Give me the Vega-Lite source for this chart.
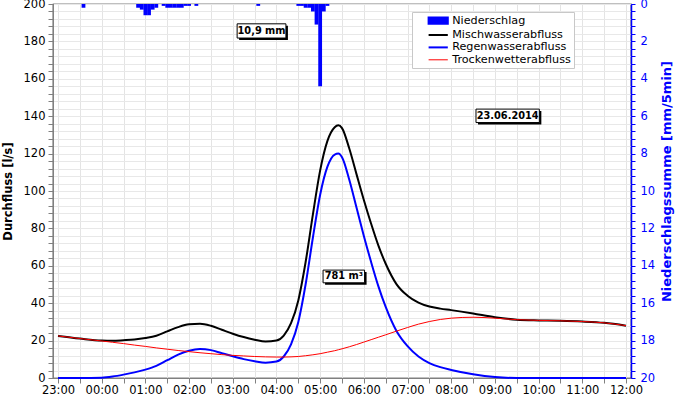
{
  "$schema": "https://vega.github.io/schema/vega-lite/v6.json",
  "width": 578,
  "height": 374,
  "autosize": "none",
  "padding": {"left": 53, "top": 4, "right": 47, "bottom": 21},
  "config": {
    "font": "DejaVu Sans",
    "view": {"stroke": "#000000", "strokeWidth": 1.2}
  },
  "layer": [
    {
      "data": {"values": [
        {"t": "2014-06-22T23:35", "mm": 0.2},
        {"t": "2014-06-23T00:50", "mm": 0.2},
        {"t": "2014-06-23T00:55", "mm": 0.3},
        {"t": "2014-06-23T01:00", "mm": 0.6},
        {"t": "2014-06-23T01:05", "mm": 0.6},
        {"t": "2014-06-23T01:10", "mm": 0.3},
        {"t": "2014-06-23T01:15", "mm": 0.2},
        {"t": "2014-06-23T01:25", "mm": 0.1},
        {"t": "2014-06-23T01:30", "mm": 0.2},
        {"t": "2014-06-23T01:35", "mm": 0.2},
        {"t": "2014-06-23T01:40", "mm": 0.2},
        {"t": "2014-06-23T01:45", "mm": 0.2},
        {"t": "2014-06-23T01:50", "mm": 0.2},
        {"t": "2014-06-23T01:55", "mm": 0.1},
        {"t": "2014-06-23T02:00", "mm": 0.1},
        {"t": "2014-06-23T02:10", "mm": 0.1},
        {"t": "2014-06-23T03:35", "mm": 0.1},
        {"t": "2014-06-23T04:30", "mm": 0.1},
        {"t": "2014-06-23T04:35", "mm": 0.1},
        {"t": "2014-06-23T04:40", "mm": 0.2},
        {"t": "2014-06-23T04:45", "mm": 0.2},
        {"t": "2014-06-23T04:50", "mm": 0.4},
        {"t": "2014-06-23T04:55", "mm": 1.1},
        {"t": "2014-06-23T05:00", "mm": 4.4},
        {"t": "2014-06-23T05:05", "mm": 0.4},
        {"t": "2014-06-23T05:10", "mm": 0.1}
      ]},
      "mark": {"type": "bar", "width": 3.8},
      "encoding": {
        "x": {
          "field": "t", "type": "temporal", "title": null,
          "scale": {"domain": [
            {"year": 2014, "month": 6, "date": 22, "hours": 23, "minutes": 0},
            {"year": 2014, "month": 6, "date": 23, "hours": 12, "minutes": 0}
          ], "nice": false},
          "axis": {
            "tickCount": 26,
            "labelExpr": "minutes(datum.value) === 0 ? timeFormat(datum.value, '%H:%M') : ''",
            "tickSize": 5, "tickColor": "#808080", "domainColor": "#808080",
            "gridColor": "#e4e4e4", "labelFontSize": 11.5, "labelColor": "#000000",
            "labelOverlap": false, "labelBound": false, "labelFlush": false, "labelPadding": 1
          }
        },
        "y": {
          "field": "mm", "type": "quantitative", "title": "Niederschlagssumme [mm/5min]",
          "scale": {"domain": [0, 20], "reverse": true, "nice": false},
          "axis": {
            "orient": "right",
            "values": [0,0.4,0.8,1.2,1.6,2,2.4,2.8,3.2,3.6,4,4.4,4.8,5.2,5.6,6,6.4,6.8,7.2,7.6,8,8.4,8.8,9.2,9.6,10,10.4,10.8,11.2,11.6,12,12.4,12.8,13.2,13.6,14,14.4,14.8,15.2,15.6,16,16.4,16.8,17.2,17.6,18,18.4,18.8,19.2,19.6,20],
            "labelExpr": "abs(datum.value/2 - round(datum.value/2)) < 0.01 ? '' + round(datum.value) : ''",
            "tickSize": 4,
            "grid": false,
            "domainColor": "#0000ff", "domainWidth": 1.5, "tickColor": "#0000ff",
            "labelColor": "#0000ff", "titleColor": "#0000ff", "labelFontSize": 11.5,
            "labelOverlap": false, "labelBound": false, "labelPadding": 5,
            "titleFontWeight": "bold", "titleFontSize": 13, "titleAngle": 270,
            "titlePadding": 19, "titleY": 177
          }
        },
        "color": {
          "datum": "Niederschlag",
          "scale": {
            "domain": ["Niederschlag", "Mischwasserabfluss", "Regenwasserabfluss", "Trockenwetterabfluss"],
            "range": ["#0000ff", "#000000", "#0000ff", "#ff0000"]
          },
          "legend": {
            "title": null, "orient": "none", "legendX": 359, "legendY": 8,
            "fillColor": "#ffffff", "strokeColor": "#c8c8c8", "padding": 3,
            "symbolSize": 64, "symbolOffset": 12, "labelOffset": 14,
            "labelFontSize": 11.2, "labelColor": "#000000", "rowPadding": 0.4,
            "encode": {
              "symbols": {"update": {
                "shape": {"signal": "datum.value === 'Niederschlag' ? 'M-1,-0.8H3.8V0.8H-1Z' : 'M-1,0H3.8'"},
                "fill": {"signal": "datum.value === 'Niederschlag' ? '#0000ff' : 'transparent'"},
                "stroke": {"signal": "datum.value === 'Niederschlag' ? 'transparent' : (datum.value === 'Mischwasserabfluss' ? '#000000' : (datum.value === 'Regenwasserabfluss' ? '#0000ff' : '#ff0000'))"},
                "strokeWidth": {"signal": "datum.value === 'Trockenwetterabfluss' ? 1 : 2"},
                "opacity": {"value": 1}
              }}
            }
          }
        }
      }
    },
    {
      "data": {"values": [
        {"t": "2014-06-22T23:00", "misch": 22.5, "regen": 0, "trocken": 22.5},
        {"t": "2014-06-22T23:30", "misch": 21.1, "regen": 0, "trocken": 21.1},
        {"t": "2014-06-23T00:00", "misch": 20.0, "regen": 0.2, "trocken": 19.8},
        {"t": "2014-06-23T00:15", "misch": 19.9, "regen": 0.8, "trocken": 19.1},
        {"t": "2014-06-23T00:30", "misch": 20.2, "regen": 1.8, "trocken": 18.4},
        {"t": "2014-06-23T00:45", "misch": 20.6, "regen": 3.0, "trocken": 17.6},
        {"t": "2014-06-23T01:00", "misch": 21.4, "regen": 4.5, "trocken": 16.9},
        {"t": "2014-06-23T01:15", "misch": 22.6, "regen": 6.5, "trocken": 16.1},
        {"t": "2014-06-23T01:30", "misch": 24.9, "regen": 9.5, "trocken": 15.4},
        {"t": "2014-06-23T01:45", "misch": 27.2, "regen": 12.5, "trocken": 14.7},
        {"t": "2014-06-23T02:00", "misch": 28.7, "regen": 14.6, "trocken": 14.1},
        {"t": "2014-06-23T02:15", "misch": 29.0, "regen": 15.5, "trocken": 13.5},
        {"t": "2014-06-23T02:30", "misch": 27.9, "regen": 14.9, "trocken": 13.0},
        {"t": "2014-06-23T02:45", "misch": 25.8, "regen": 13.3, "trocken": 12.5},
        {"t": "2014-06-23T03:00", "misch": 23.7, "regen": 11.6, "trocken": 12.1},
        {"t": "2014-06-23T03:15", "misch": 21.9, "regen": 10.1, "trocken": 11.8},
        {"t": "2014-06-23T03:30", "misch": 20.5, "regen": 9.0, "trocken": 11.5},
        {"t": "2014-06-23T03:45", "misch": 19.5, "regen": 8.2, "trocken": 11.3},
        {"t": "2014-06-23T04:00", "misch": 20.0, "regen": 8.8, "trocken": 11.2},
        {"t": "2014-06-23T04:10", "misch": 22.7, "regen": 11.5, "trocken": 11.2},
        {"t": "2014-06-23T04:20", "misch": 29.3, "regen": 18.0, "trocken": 11.3},
        {"t": "2014-06-23T04:30", "misch": 41.5, "regen": 30.0, "trocken": 11.5},
        {"t": "2014-06-23T04:40", "misch": 61.9, "regen": 50.0, "trocken": 11.9},
        {"t": "2014-06-23T04:50", "misch": 87.4, "regen": 75.0, "trocken": 12.4},
        {"t": "2014-06-23T05:00", "misch": 111.0, "regen": 98.0, "trocken": 13.0},
        {"t": "2014-06-23T05:10", "misch": 126.8, "regen": 113.0, "trocken": 13.8},
        {"t": "2014-06-23T05:20", "misch": 134.1, "regen": 119.5, "trocken": 14.6},
        {"t": "2014-06-23T05:25", "misch": 135.1, "regen": 120.0, "trocken": 15.1},
        {"t": "2014-06-23T05:30", "misch": 133.6, "regen": 118.0, "trocken": 15.6},
        {"t": "2014-06-23T05:40", "misch": 122.7, "regen": 106.0, "trocken": 16.7},
        {"t": "2014-06-23T05:50", "misch": 108.9, "regen": 91.0, "trocken": 17.9},
        {"t": "2014-06-23T06:00", "misch": 95.2, "regen": 76.0, "trocken": 19.2},
        {"t": "2014-06-23T06:10", "misch": 82.5, "regen": 62.0, "trocken": 20.5},
        {"t": "2014-06-23T06:20", "misch": 70.8, "regen": 49.0, "trocken": 21.8},
        {"t": "2014-06-23T06:30", "misch": 61.1, "regen": 38.0, "trocken": 23.1},
        {"t": "2014-06-23T06:45", "misch": 50.1, "regen": 25.0, "trocken": 25.1},
        {"t": "2014-06-23T07:00", "misch": 44.0, "regen": 17.0, "trocken": 27.0},
        {"t": "2014-06-23T07:15", "misch": 40.3, "regen": 11.5, "trocken": 28.8},
        {"t": "2014-06-23T07:30", "misch": 38.2, "regen": 8.0, "trocken": 30.2},
        {"t": "2014-06-23T07:45", "misch": 37.1, "regen": 5.8, "trocken": 31.3},
        {"t": "2014-06-23T08:00", "misch": 36.3, "regen": 4.3, "trocken": 32.0},
        {"t": "2014-06-23T08:30", "misch": 34.5, "regen": 2.0, "trocken": 32.5},
        {"t": "2014-06-23T09:00", "misch": 32.5, "regen": 0.5, "trocken": 32.0},
        {"t": "2014-06-23T09:30", "misch": 31.2, "regen": 0, "trocken": 31.2},
        {"t": "2014-06-23T10:00", "misch": 30.8, "regen": 0, "trocken": 30.8},
        {"t": "2014-06-23T10:30", "misch": 30.6, "regen": 0, "trocken": 30.6},
        {"t": "2014-06-23T11:00", "misch": 30.2, "regen": 0, "trocken": 30.2},
        {"t": "2014-06-23T11:30", "misch": 29.5, "regen": 0, "trocken": 29.5},
        {"t": "2014-06-23T12:00", "misch": 28.0, "regen": 0, "trocken": 28.0}
      ]},
      "layer": [
        {
          "mark": {"type": "line", "interpolate": "monotone", "strokeWidth": 2},
          "encoding": {
            "x": {"field": "t", "type": "temporal", "title": null},
            "y": {
              "field": "misch", "type": "quantitative", "title": "Durchfluss [l/s]",
              "scale": {"domain": [0, 200], "nice": false},
              "axis": {
                "values": [0,4,8,12,16,20,24,28,32,36,40,44,48,52,56,60,64,68,72,76,80,84,88,92,96,100,104,108,112,116,120,124,128,132,136,140,144,148,152,156,160,164,168,172,176,180,184,188,192,196,200],
                "labelExpr": "datum.value % 20 === 0 ? datum.label : ''",
                "tickSize": 5, "grid": true, "gridColor": "#e8e8e8",
                "domainColor": "#808080", "tickColor": "#808080", "labelColor": "#000000",
                "labelFontSize": 11.5, "labelOverlap": false, "labelBound": false, "labelPadding": 3,
                "titleFontWeight": "bold", "titleFontSize": 11.5, "titleColor": "#000000", "titlePadding": 10
              }
            },
            "color": {"datum": "Mischwasserabfluss", "legend": null}
          }
        },
        {
          "mark": {"type": "line", "interpolate": "monotone", "strokeWidth": 2},
          "encoding": {
            "x": {"field": "t", "type": "temporal", "title": null},
            "y": {
              "field": "regen", "type": "quantitative", "title": "Durchfluss [l/s]",
              "axis": {
                "values": [0,4,8,12,16,20,24,28,32,36,40,44,48,52,56,60,64,68,72,76,80,84,88,92,96,100,104,108,112,116,120,124,128,132,136,140,144,148,152,156,160,164,168,172,176,180,184,188,192,196,200],
                "labelExpr": "datum.value % 20 === 0 ? datum.label : ''",
                "tickSize": 5, "grid": true, "gridColor": "#e8e8e8",
                "domainColor": "#808080", "tickColor": "#808080", "labelColor": "#000000",
                "labelFontSize": 11.5, "labelOverlap": false, "labelBound": false, "labelPadding": 3,
                "titleFontWeight": "bold", "titleFontSize": 11.5, "titleColor": "#000000", "titlePadding": 10
              }
            },
            "color": {"datum": "Regenwasserabfluss", "legend": null}
          }
        },
        {
          "mark": {"type": "line", "interpolate": "monotone", "strokeWidth": 1},
          "encoding": {
            "x": {"field": "t", "type": "temporal", "title": null},
            "y": {
              "field": "trocken", "type": "quantitative", "title": "Durchfluss [l/s]",
              "axis": {
                "values": [0,4,8,12,16,20,24,28,32,36,40,44,48,52,56,60,64,68,72,76,80,84,88,92,96,100,104,108,112,116,120,124,128,132,136,140,144,148,152,156,160,164,168,172,176,180,184,188,192,196,200],
                "labelExpr": "datum.value % 20 === 0 ? datum.label : ''",
                "tickSize": 5, "grid": true, "gridColor": "#e8e8e8",
                "domainColor": "#808080", "tickColor": "#808080", "labelColor": "#000000",
                "labelFontSize": 11.5, "labelOverlap": false, "labelBound": false, "labelPadding": 3,
                "titleFontWeight": "bold", "titleFontSize": 11.5, "titleColor": "#000000", "titlePadding": 10
              }
            },
            "color": {"datum": "Trockenwetterabfluss", "legend": null}
          }
        },
        {
          "data": {"values": [
            {"x1": "2014-06-23T03:06", "x2": "2014-06-23T04:13", "y1": 189.4, "y2": 181.8, "xt": "2014-06-23T03:39:30", "yt": 185.6, "label": "10,9 mm"},
            {"x1": "2014-06-23T05:04", "x2": "2014-06-23T06:01", "y1": 57.7, "y2": 50.9, "xt": "2014-06-23T05:32:30", "yt": 54.3, "label": "781 m³"},
            {"x1": "2014-06-23T08:34", "x2": "2014-06-23T10:01", "y1": 143.8, "y2": 136.6, "xt": "2014-06-23T09:17:30", "yt": 140.2, "label": "23.06.2014"}
          ]},
          "layer": [
            {
              "mark": {"type": "rect", "color": "#000000", "xOffset": 2, "x2Offset": 2, "yOffset": 2, "y2Offset": 2},
              "encoding": {
                "x": {"field": "x1", "type": "temporal", "title": null},
                "x2": {"field": "x2"},
                "y": {
                  "field": "y1", "type": "quantitative", "title": "Durchfluss [l/s]",
                  "axis": {
                    "values": [0,4,8,12,16,20,24,28,32,36,40,44,48,52,56,60,64,68,72,76,80,84,88,92,96,100,104,108,112,116,120,124,128,132,136,140,144,148,152,156,160,164,168,172,176,180,184,188,192,196,200],
                    "labelExpr": "datum.value % 20 === 0 ? datum.label : ''",
                    "tickSize": 5, "grid": true, "gridColor": "#e8e8e8",
                    "domainColor": "#808080", "tickColor": "#808080", "labelColor": "#000000",
                    "labelFontSize": 11.5, "labelOverlap": false, "labelBound": false, "labelPadding": 3,
                    "titleFontWeight": "bold", "titleFontSize": 11.5, "titleColor": "#000000", "titlePadding": 10
                  }
                },
                "y2": {"field": "y2"}
              }
            },
            {
              "mark": {"type": "rect", "fill": "#ffffff", "stroke": "#000000", "strokeWidth": 1},
              "encoding": {
                "x": {"field": "x1", "type": "temporal", "title": null},
                "x2": {"field": "x2"},
                "y": {
                  "field": "y1", "type": "quantitative", "title": "Durchfluss [l/s]",
                  "axis": {
                    "values": [0,4,8,12,16,20,24,28,32,36,40,44,48,52,56,60,64,68,72,76,80,84,88,92,96,100,104,108,112,116,120,124,128,132,136,140,144,148,152,156,160,164,168,172,176,180,184,188,192,196,200],
                    "labelExpr": "datum.value % 20 === 0 ? datum.label : ''",
                    "tickSize": 5, "grid": true, "gridColor": "#e8e8e8",
                    "domainColor": "#808080", "tickColor": "#808080", "labelColor": "#000000",
                    "labelFontSize": 11.5, "labelOverlap": false, "labelBound": false, "labelPadding": 3,
                    "titleFontWeight": "bold", "titleFontSize": 11.5, "titleColor": "#000000", "titlePadding": 10
                  }
                },
                "y2": {"field": "y2"}
              }
            },
            {
              "mark": {"type": "text", "fontWeight": "bold", "fontSize": 9.8, "align": "center", "baseline": "middle", "color": "#000000"},
              "encoding": {
                "x": {"field": "xt", "type": "temporal", "title": null},
                "y": {
                  "field": "yt", "type": "quantitative", "title": "Durchfluss [l/s]",
                  "axis": {
                    "values": [0,4,8,12,16,20,24,28,32,36,40,44,48,52,56,60,64,68,72,76,80,84,88,92,96,100,104,108,112,116,120,124,128,132,136,140,144,148,152,156,160,164,168,172,176,180,184,188,192,196,200],
                    "labelExpr": "datum.value % 20 === 0 ? datum.label : ''",
                    "tickSize": 5, "grid": true, "gridColor": "#e8e8e8",
                    "domainColor": "#808080", "tickColor": "#808080", "labelColor": "#000000",
                    "labelFontSize": 11.5, "labelOverlap": false, "labelBound": false, "labelPadding": 3,
                    "titleFontWeight": "bold", "titleFontSize": 11.5, "titleColor": "#000000", "titlePadding": 10
                  }
                },
                "text": {"field": "label"}
              }
            }
          ]
        }
      ]
    }
  ],
  "resolve": {"scale": {"y": "independent"}}
}
